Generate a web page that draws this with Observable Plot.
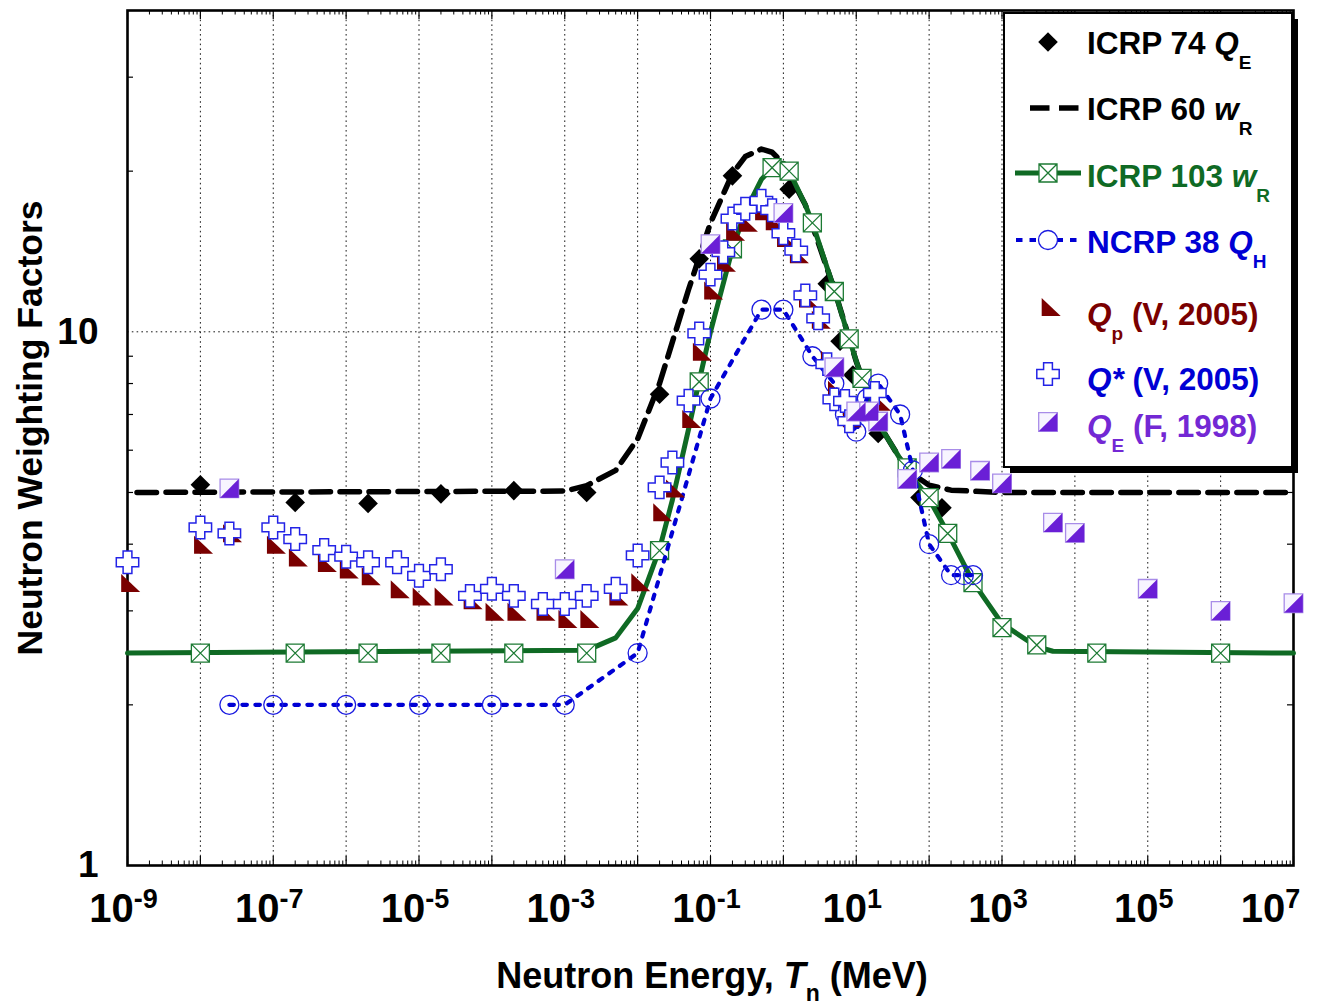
<!DOCTYPE html>
<html><head><meta charset="utf-8">
<script src="https://cdn.jsdelivr.net/npm/d3@7"></script>
<script src="https://cdn.jsdelivr.net/npm/@observablehq/plot@0.6"></script>
<style>html,body{margin:0;padding:0;background:#fff;overflow:hidden}#chart svg{display:block}</style>
</head><body><div id="chart"></div>
<script>
// ---------------- data ----------------
const icrp74E = [1e-8, 2e-7, 2e-6, 2e-5, 2e-4, 2e-3, 0.02, 0.07, 0.2, 1.2, 4, 6, 9, 20, 75, 150];
const icrp74V = [5.17, 4.79, 4.77, 4.97, 5.04, 5.0, 7.64, 13.7, 19.6, 18.5, 12.3, 9.6, 8.3, 6.45, 4.89, 4.68];

const icrp60E = [1e-9, 1e-3, 2e-3, 5e-3, 1e-2, 2e-2, 5e-2, 0.1, 0.2, 0.3, 0.5, 0.7, 1, 2, 5, 10, 20, 50, 100, 200, 1000, 1e7];
const icrp60V = [5, 5.03, 5.15, 5.5, 6.3, 8.0, 12.0, 16.0, 19.8, 21.3, 22.0, 21.7, 20.7, 17.3, 12.0, 8.8, 6.75, 5.5, 5.16, 5.05, 5.0, 5.0];

const icrp103LineE = [1e-9, 2e-3, 5e-3, 1e-2, 2e-2, 3e-2, 5e-2, 7e-2, 0.1, 0.2, 0.3, 0.5, 0.7, 1, 1.2, 2, 2.5, 5, 8, 12, 20, 50, 100, 180, 400, 1000, 3000, 5000, 1e7];
const icrp103LineV = [2.5, 2.53, 2.67, 3.03, 3.92, 4.84, 6.57, 8.1, 10.0, 14.3, 16.8, 19.3, 20.3, 20.7, 20.0, 17.3, 16.0, 12.0, 9.7, 8.16, 6.75, 5.5, 4.86, 4.2, 3.4, 2.84, 2.57, 2.52, 2.5];
const icrp103E = [1e-8, 2e-7, 2e-6, 2e-5, 2e-4, 2e-3, 0.02, 0.07, 0.2, 0.7, 1.2, 2.5, 5, 8, 12, 50, 100, 180, 400, 1000, 3000, 2e4, 1e6];
const icrp103V = [2.5, 2.5, 2.5, 2.5, 2.5, 2.5, 3.89, 8.06, 14.3, 20.3, 20.0, 16.0, 11.9, 9.7, 8.18, 5.56, 4.89, 4.19, 3.39, 2.79, 2.59, 2.5, 2.5];

const ncrp38E = [2.5e-8, 1e-7, 1e-6, 1e-5, 1e-4, 1e-3, 1e-2, 0.1, 0.5, 1, 2.5, 5, 7, 10, 14, 20, 40, 60, 100, 200, 300, 400];
const ncrp38V = [2, 2, 2, 2, 2, 2, 2.5, 7.5, 11, 11, 9, 8, 7, 6.5, 7.5, 8, 7, 5.5, 4, 3.5, 3.5, 3.5];

const qpE = [1e-9, 1e-8, 2.5e-8, 1e-7, 2e-7, 5e-7, 1e-6, 2e-6, 5e-6, 1e-5, 2e-5, 5e-5, 1e-4, 2e-4, 5e-4, 1e-3, 2e-3, 5e-3, 1e-2, 0.02, 0.03, 0.05, 0.07, 0.1, 0.15, 0.2, 0.3, 0.5, 0.7, 1, 1.5, 2, 3, 4, 5, 8, 20];
const qpV = [3.34, 3.94, 4.14, 3.94, 3.73, 3.64, 3.54, 3.44, 3.25, 3.15, 3.15, 3.1, 2.95, 2.95, 2.95, 2.86, 2.86, 3.15, 3.35, 4.53, 5.02, 6.78, 9.06, 11.8, 13.3, 15.2, 15.8, 16.6, 15.9, 14.8, 13.8, 11.4, 10.4, 8.75, 7.69, 6.8, 7.3];

const qsE = [1e-9, 1e-8, 2.5e-8, 1e-7, 2e-7, 5e-7, 1e-6, 2e-6, 5e-6, 1e-5, 2e-5, 5e-5, 1e-4, 2e-4, 5e-4, 1e-3, 2e-3, 5e-3, 1e-2, 0.02, 0.03, 0.05, 0.07, 0.1, 0.15, 0.2, 0.3, 0.5, 0.7, 1, 1.5, 2, 3, 4, 5, 7, 8, 18];
const qsV = [3.70, 4.30, 4.19, 4.30, 4.09, 3.90, 3.79, 3.70, 3.70, 3.49, 3.59, 3.20, 3.30, 3.20, 3.09, 3.09, 3.20, 3.30, 3.81, 5.11, 5.69, 7.43, 9.93, 12.8, 14.1, 16.3, 17.0, 17.6, 16.9, 15.3, 14.2, 11.7, 10.6, 8.7, 7.47, 7.42, 6.8, 7.68];

const qeE = [2.5e-8, 1e-3, 0.1, 1, 5, 10, 15, 20, 50, 100, 200, 500, 1000, 5000, 1e4, 1e5, 1e6, 1e7];
const qeV = [5.09, 3.59, 14.6, 16.7, 8.58, 7.09, 7.09, 6.79, 5.30, 5.69, 5.78, 5.49, 5.20, 4.39, 4.20, 3.30, 3.0, 3.10];

const xLabelExps = [-9, -7, -5, -3, -1, 1, 3, 5, 7];
const yLabelTicks = [1, 10];
const xGridExps = [-8, -7, -6, -5, -4, -3, -2, -1, 0, 1, 2, 3, 4, 5, 6];
const yGridTicks = [10];
const yMinorTicks = [2, 3, 4, 5, 6, 7, 8, 9, 20, 30];

// ---------------- layout ----------------
const W = 1319, H = 1006, mL = 127, mR = 26, mT = 10, mB = 141;
const innerW = W - mL - mR, innerH = H - mT - mB;

const rows = (E, V) => E.map((e, i) => ({e, v: V[i]}));
const xMajor = d3.range(-9, 8).map(p => Math.pow(10, p));
const xMinor = d3.range(-9, 7).flatMap(p => d3.range(2, 10).map(k => k * Math.pow(10, p)));

// colours
const GREEN = "#0f6a24", BLUE = "#0000d4", RED = "#7a0000", CROSS = "#2323e6", PURPLE = "#6a1fd6", PURPLE_TXT = "#7328d4", PURPLE_EDGE = "#a88ce8";

// custom symbols
const sym = fn => ({draw(c) { fn(c); }});
const diamondSym = sym(c => { c.moveTo(0, -9.8); c.lineTo(9.8, 0); c.lineTo(0, 9.8); c.lineTo(-9.8, 0); c.closePath(); });
const boxXSym = sym(c => { const a = 9; c.moveTo(-a, -a); c.lineTo(a, -a); c.lineTo(a, a); c.lineTo(-a, a); c.closePath(); c.moveTo(-a, -a); c.lineTo(a, a); c.moveTo(a, -a); c.lineTo(-a, a); });
const triSym = sym(c => { const w = 19, h = 18; c.moveTo(-w / 3, -2 * h / 3); c.lineTo(-w / 3, h / 3); c.lineTo(2 * w / 3, h / 3); c.closePath(); });
const crossSym = sym(c => { const a = 11.2, b = 4.4; const p = [[-b,-a],[b,-a],[b,-b],[a,-b],[a,b],[b,b],[b,a],[-b,a],[-b,b],[-a,b],[-a,-b],[-b,-b]]; c.moveTo(...p[0]); p.slice(1).forEach(q => c.lineTo(...q)); c.closePath(); });
const sqSym = sym(c => { const a = 9.3; c.moveTo(-a, -a); c.lineTo(a, -a); c.lineTo(a, a); c.lineTo(-a, a); c.closePath(); });
const halfSym = sym(c => { const a = 9.3; c.moveTo(a, -a); c.lineTo(a, a); c.lineTo(-a, a); c.closePath(); });
const circSym = sym(c => { c.moveTo(9.5, 0); c.arc(0, 0, 9.5, 0, 2 * Math.PI); c.closePath(); });

const chart = Plot.plot({
  width: W, height: H,
  marginLeft: mL, marginRight: mR, marginTop: mT, marginBottom: mB,
  style: "font-family: 'Liberation Sans', Arial, Helvetica, sans-serif; font-weight: bold; background: white;",
  x: {type: "log", domain: [1e-9, 1e7], label: null},
  y: {type: "log", domain: [1, 40], label: null},
  marks: [
    Plot.gridX(xGridExps.map(p => Math.pow(10, p)), {stroke: "#000", strokeOpacity: 0.9, strokeWidth: 1, strokeDasharray: "1.6,3.2"}),
    Plot.gridY(yGridTicks, {stroke: "#000", strokeOpacity: 0.9, strokeWidth: 1, strokeDasharray: "1.6,3.2"}),
    Plot.frame({stroke: "#000", strokeWidth: 2.6}),
    // ticks (inward)
    Plot.tickX(xMajor, {x: d => d, stroke: "#000", strokeWidth: 1.2, insetTop: innerH - 9}),
    Plot.tickX(xMajor, {x: d => d, stroke: "#000", strokeWidth: 1.2, insetBottom: innerH - 9}),
    Plot.tickX(xMinor, {x: d => d, stroke: "#000", strokeWidth: 1, insetTop: innerH - 4.5}),
    Plot.tickX(xMinor, {x: d => d, stroke: "#000", strokeWidth: 1, insetBottom: innerH - 4.5}),
    Plot.tickY(yMinorTicks, {y: d => d, stroke: "#000", strokeWidth: 1.2, insetRight: innerW - 6}),
    Plot.tickY(yMinorTicks, {y: d => d, stroke: "#000", strokeWidth: 1.2, insetLeft: innerW - 6}),
    // axes labels
    Plot.axisX(xLabelExps.map(p => Math.pow(10, p)), {anchor: "bottom", tickSize: 0, tickPadding: 28, fontSize: 40, dx: -4, label: null,
      tickFormat: d => "10^" + Math.round(Math.log10(d))}),
    Plot.axisY(yLabelTicks, {anchor: "left", tickSize: 0, tickPadding: 29, fontSize: 37, label: null, tickFormat: d => String(d)}),
    // ICRP 60 dashed
    Plot.line(rows(icrp60E, icrp60V), {x: "e", y: "v", stroke: "#000", strokeWidth: 5.5, strokeDasharray: "19.5,9.5", strokeDashoffset: 19.5}),
    // ICRP 74 diamonds
    Plot.dot(rows(icrp74E, icrp74V), {x: "e", y: "v", symbol: diamondSym, r: 5, fill: "#000", stroke: "none"}),
    // ICRP 103
    Plot.line(rows(icrp103LineE, icrp103LineV), {x: "e", y: "v", stroke: GREEN, strokeWidth: 5}),
    Plot.dot(rows(icrp103E, icrp103V), {x: "e", y: "v", symbol: boxXSym, r: 5, fill: "white", stroke: "#1c7a33", strokeWidth: 1.3}),
    // NCRP 38
    Plot.line(rows(ncrp38E, ncrp38V), {x: "e", y: "v", stroke: BLUE, strokeWidth: 4.2, strokeDasharray: "4.5,8.5"}),
    Plot.dot(rows(ncrp38E, ncrp38V), {x: "e", y: "v", symbol: circSym, r: 5, fill: "none", stroke: "#1a1ae0", strokeWidth: 1.3}),
    // Q_p triangles
    Plot.dot(rows(qpE, qpV), {x: "e", y: "v", symbol: triSym, r: 5, fill: RED, stroke: "none"}),
    // Q* crosses
    Plot.dot(rows(qsE, qsV), {x: "e", y: "v", symbol: crossSym, r: 5, fill: "white", stroke: CROSS, strokeWidth: 1.5}),
    // Q_E squares
    Plot.dot(rows(qeE, qeV), {x: "e", y: "v", symbol: sqSym, r: 5, fill: "#f7f4ff", stroke: PURPLE_EDGE, strokeWidth: 1.3}),
    Plot.dot(rows(qeE, qeV), {x: "e", y: "v", symbol: halfSym, r: 5, fill: PURPLE, stroke: "none"})
  ]
});

document.getElementById("chart").appendChild(chart);

// ---------------- post-processing: superscripts, titles, legend ----------------
const NS = "http://www.w3.org/2000/svg";
chart.querySelectorAll('[aria-label="x-axis tick label"] text').forEach(t => {
  const s = t.textContent;
  if (!s.includes("^")) return;
  const [base, ex] = s.split("^");
  t.textContent = "";
  const a = document.createElementNS(NS, "tspan"); a.textContent = base; t.appendChild(a);
  const b = document.createElementNS(NS, "tspan"); b.textContent = ex; b.setAttribute("dy", "-14"); b.setAttribute("font-size", "27"); t.appendChild(b);
  if (ex === "7") {
    const tr = t.getAttribute("transform");
    if (tr) t.setAttribute("transform", tr + " translate(-19,0)");
  }
});

const svg = d3.select(chart);

function richText(g, x, y, parts, opts = {}) {
  const t = g.append("text").attr("x", x).attr("y", y)
    .attr("font-size", opts.size || 31.5).attr("font-weight", "bold")
    .attr("fill", opts.fill || "#000").attr("text-anchor", opts.anchor || "start")
    .style("white-space", "pre");
  if (opts.transform) t.attr("transform", opts.transform);
  let shift = 0;
  parts.forEach(p => {
    const ts = t.append("tspan").text(p.t);
    const target = p.sub ? (opts.subDy || 15) : 0;
    if (target !== shift) { ts.attr("dy", target - shift); shift = target; }
    if (p.sub) ts.attr("font-size", opts.subSize || 19);
    if (p.i) ts.attr("font-style", "italic");
  });
  return t;
}

// axis titles
richText(svg, 712, 988, [{t: "Neutron Energy, "}, {t: "T", i: true}, {t: "n", sub: true}, {t: " (MeV)"}], {size: 36, anchor: "middle", subSize: 23, subDy: 13});
richText(svg, 0, 0, [{t: "Neutron Weighting Factors"}], {size: 35.5, anchor: "middle", transform: "translate(42,428) rotate(-90)"});

// legend
const lg = svg.append("g");
lg.append("rect").attr("x", 1010).attr("y", 19).attr("width", 288).attr("height", 454).attr("fill", "#000");
lg.append("rect").attr("x", 1004).attr("y", 13).attr("width", 288).attr("height", 454).attr("fill", "#fff").attr("stroke", "#000").attr("stroke-width", 2);

function symPath(s) { const p = d3.path(); s.draw(p); return p.toString(); }
function legSym(s, x, y, attrs) {
  const el = lg.append("path").attr("d", symPath(s)).attr("transform", `translate(${x},${y})`);
  Object.entries(attrs).forEach(([k, v]) => el.attr(k, v));
}
const LX = 1048, TX = 1087;
// row 1
legSym(diamondSym, LX, 42, {fill: "#000"});
richText(lg, TX, 54, [{t: "ICRP 74 "}, {t: "Q", i: true}, {t: "E", sub: true}]);
// row 2
lg.append("line").attr("x1", 1030).attr("x2", 1079).attr("y1", 108).attr("y2", 108).attr("stroke", "#000").attr("stroke-width", 5.5).attr("stroke-dasharray", "19.5,9.5");
richText(lg, TX, 120, [{t: "ICRP 60 "}, {t: "w", i: true}, {t: "R", sub: true}]);
// row 3
lg.append("line").attr("x1", 1015).attr("x2", 1081).attr("y1", 173).attr("y2", 173).attr("stroke", GREEN).attr("stroke-width", 5);
legSym(boxXSym, LX, 173, {fill: "#fff", stroke: "#1c7a33", "stroke-width": 1.3});
richText(lg, TX, 187, [{t: "ICRP 103 "}, {t: "w", i: true}, {t: "R", sub: true}], {fill: GREEN});
// row 4
lg.append("line").attr("x1", 1016).attr("x2", 1081).attr("y1", 240).attr("y2", 240).attr("stroke", BLUE).attr("stroke-width", 4).attr("stroke-dasharray", "6.5,7");
legSym(circSym, LX, 240, {fill: "#fff", stroke: "#1a1ae0", "stroke-width": 1.3});
richText(lg, TX, 253, [{t: "NCRP 38 "}, {t: "Q", i: true}, {t: "H", sub: true}], {fill: BLUE});
// row 5
legSym(triSym, LX, 310, {fill: RED});
richText(lg, TX, 325, [{t: "Q", i: true}, {t: "p", sub: true}, {t: " (V, 2005)"}], {fill: RED});
// row 6
legSym(crossSym, LX, 374, {fill: "#fff", stroke: CROSS, "stroke-width": 1.5});
richText(lg, TX, 390, [{t: "Q*", i: true}, {t: " (V, 2005)"}], {fill: BLUE});
// row 7
legSym(sqSym, LX, 422, {fill: "#f7f4ff", stroke: PURPLE_EDGE, "stroke-width": 1.3});
legSym(halfSym, LX, 422, {fill: PURPLE});
richText(lg, TX, 437, [{t: "Q", i: true}, {t: "E", sub: true}, {t: " (F, 1998)"}], {fill: PURPLE_TXT});
</script>
</body></html>
